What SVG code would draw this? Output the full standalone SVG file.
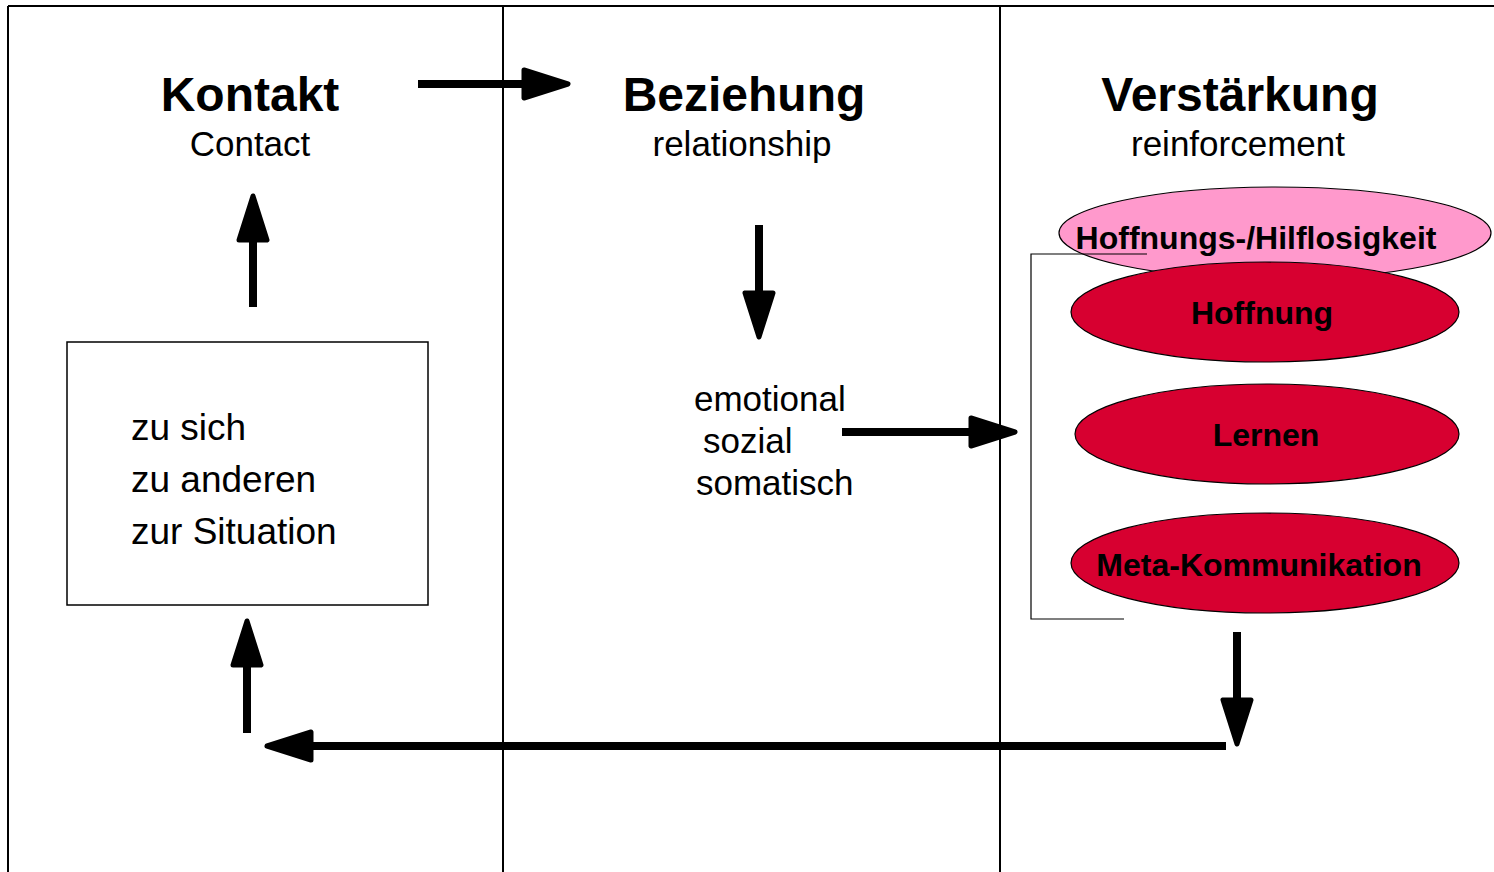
<svg xmlns="http://www.w3.org/2000/svg" width="1494" height="872" viewBox="0 0 1494 872">
<style>
.frame{stroke:#000;stroke-width:2;fill:none}
.arrow{stroke:#000;stroke-width:8;fill:none;marker-end:url(#head)}
.h1{font-family:"Liberation Sans",Arial,sans-serif;font-weight:bold;font-size:48px;text-anchor:middle}
.h2{font-family:"Liberation Sans",Arial,sans-serif;font-size:35px;text-anchor:middle}
.body{font-family:"Liberation Sans",Arial,sans-serif;font-size:35px}
.box{font-family:"Liberation Sans",Arial,sans-serif;font-size:37px}
.el{font-family:"Liberation Sans",Arial,sans-serif;font-weight:bold;font-size:32px;text-anchor:middle}
.red{fill:#D70030;stroke:#000;stroke-width:1.2}
.pink{fill:#FF99CC;stroke:#000;stroke-width:1.2}
</style>
<defs>
<marker id="head" markerUnits="userSpaceOnUse" viewBox="-3 -3 52 40" markerWidth="52" markerHeight="40" refX="2" refY="17" orient="auto">
<path d="M0,3 L44,17 L0,31 Z" fill="#000" stroke="#000" stroke-width="5" stroke-linejoin="round"/>
</marker>
</defs>
<rect width="1494" height="872" fill="#fff"/>
<g id="frame">
<line class="frame" x1="8" y1="6" x2="1494" y2="6"/>
<line class="frame" x1="8" y1="6" x2="8" y2="872"/>
<line class="frame" x1="503" y1="6" x2="503" y2="872"/>
<line class="frame" x1="1000" y1="6" x2="1000" y2="872"/>
</g>
<g id="kontakt">
<text class="h1" x="250" y="111">Kontakt</text>
<text class="h2" x="250" y="156">Contact</text>
</g>
<g id="beziehung">
<text class="h1" x="744" y="111">Beziehung</text>
<text class="h2" x="742" y="156">relationship</text>
</g>
<g id="verstaerkung">
<text class="h1" x="1240" y="111">Verstärkung</text>
<text class="h2" x="1238" y="156">reinforcement</text>
</g>
<g id="box">
<rect x="67" y="342" width="361" height="263" fill="#fff" stroke="#000" stroke-width="1.5"/>
<text class="box" x="131" y="440">zu sich</text>
<text class="box" x="131" y="492">zu anderen</text>
<text class="box" x="131" y="544">zur Situation</text>
</g>
<g id="dimensions">
<text class="body" x="694" y="411">emotional</text>
<text class="body" x="703" y="453">sozial</text>
<text class="body" x="696" y="495">somatisch</text>
</g>
<g id="hilflosigkeit">
<ellipse class="pink" cx="1275" cy="233" rx="216" ry="46"/>
<text class="el" x="1256" y="249">Hoffnungs-/Hilflosigkeit</text>
</g>
<g id="hoffnung">
<ellipse class="red" cx="1265" cy="312" rx="194" ry="50"/>
<text class="el" x="1262" y="324">Hoffnung</text>
</g>
<g id="lernen">
<ellipse class="red" cx="1267" cy="434" rx="192" ry="50"/>
<text class="el" x="1266" y="446">Lernen</text>
</g>
<g id="meta">
<ellipse class="red" cx="1265" cy="563" rx="194" ry="50"/>
<text class="el" x="1259" y="576">Meta-Kommunikation</text>
</g>
<g id="bracket">
<polyline points="1147,254 1031,254 1031,619 1124,619" fill="none" stroke="#000" stroke-width="1.2"/>
</g>
<g id="connectors">
<line class="arrow" x1="418" y1="84" x2="526" y2="84"/>
<line class="arrow" x1="253" y1="307" x2="253" y2="238"/>
<line class="arrow" x1="759" y1="225" x2="759" y2="295"/>
<line class="arrow" x1="842" y1="432" x2="973" y2="432"/>
<line class="arrow" x1="1237" y1="632" x2="1237" y2="702"/>
<line class="arrow" x1="1226" y1="746" x2="309" y2="746"/>
<line class="arrow" x1="247" y1="733" x2="247" y2="663"/>
</g>
</svg>
